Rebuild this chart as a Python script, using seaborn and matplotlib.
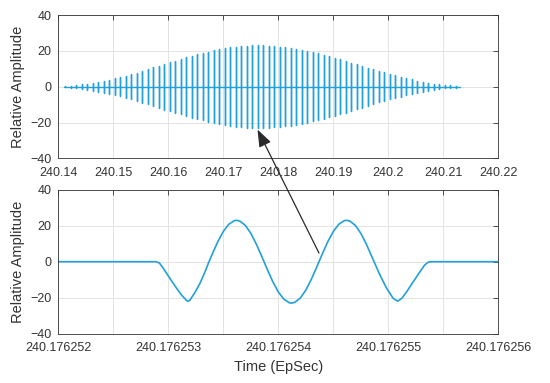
import numpy as np
import pandas as pd
import matplotlib
matplotlib.use("Agg")
import matplotlib.pyplot as plt
import seaborn as sns

# top panel: one pulse every 1 ms, peak amplitude of each pulse
pulse_first = 240.14125   # EpSec
pulse_step = 0.001        # s
pulse_amp = [
    0.4, 0.6, 0.9, 1.3, 1.7, 2.2, 2.7, 3.3, 3.9, 4.6,
    5.4, 6.2, 7.0, 7.9, 8.9, 9.8, 10.8, 11.8, 12.8, 13.6,
    14.5, 15.4, 16.3, 17.2, 18.0, 18.7, 19.6, 20.3, 20.9, 21.5,
    21.9, 22.2, 22.6, 22.8, 23.0, 23.0, 23.0, 22.8, 22.6, 22.4,
    22.0, 21.8, 21.2, 20.7, 20.0, 19.3, 18.7, 17.8, 17.0, 16.1,
    15.3, 14.4, 13.4, 12.5, 11.6, 10.7, 9.8, 8.8, 8.0, 7.1,
    6.4, 5.6, 4.8, 4.1, 3.4, 2.8, 2.2, 1.7, 1.3, 0.9,
    0.7, 0.5,
]
trace_start = 240.1410
trace_end = 240.2131

# bottom panel: zoom on a single pulse (offsets in microseconds from 240.176252)
zoom_origin = 240.176252
zoom_offset_us = [
    0.0, 0.89, 0.92, 0.955, 1.015, 1.076, 1.12, 1.167, 1.18, 1.197,
    1.243, 1.288, 1.334, 1.364, 1.40, 1.45, 1.50, 1.55, 1.60, 1.62,
    1.65, 1.70, 1.75, 1.80, 1.85, 1.90, 1.95, 2.00, 2.05, 2.10,
    2.12, 2.15, 2.20, 2.25, 2.30, 2.35, 2.40, 2.45, 2.50, 2.55,
    2.60, 2.62, 2.65, 2.70, 2.75, 2.80, 2.864, 2.924, 2.985, 3.045,
    3.085, 3.122, 3.167, 3.227, 3.288, 3.33, 3.364, 3.40, 4.0,
]
zoom_amp = [
    0.0, 0.0, -0.8, -3.7, -9.3, -14.8, -18.5, -21.6, -22.0, -21.3,
    -17.0, -12.0, -5.6, -0.9, 4.3, 11.1, 16.8, 20.8, 22.8, 23.0,
    22.6, 20.2, 15.8, 9.8, 2.9, -4.3, -11.1, -16.8, -20.8, -22.8,
    -23.0, -22.6, -20.2, -15.8, -9.8, -2.9, 4.3, 11.1, 16.8, 20.8,
    22.8, 23.0, 22.6, 20.2, 15.8, 9.8, 0.9, -7.4, -14.8, -20.4,
    -21.9, -20.4, -16.7, -11.1, -5.6, -1.9, -0.2, 0.0, 0.0,
]

top_xticks = [240.14, 240.15, 240.16, 240.17, 240.18, 240.19, 240.2, 240.21, 240.22]
bot_xticks_us = [0, 0.5, 1, 1.5, 2, 2.5, 3, 3.5, 4]
yticks = [-40, -20, 0, 20, 40]

line_color = "#22a0da"
ink = "#333333"

sns.set_style("white")
plt.rcParams["font.family"] = ["Liberation Sans", "DejaVu Sans"]

# build the top trace: baseline with a vertical swing at each pulse
tt, yy = [trace_start], [0.0]
for k, a in enumerate(pulse_amp):
    t = pulse_first + k * pulse_step
    tt += [t, t, t, t]
    yy += [0.0, -a, a, 0.0]
tt.append(trace_end)
yy.append(0.0)
top_df = pd.DataFrame({"time": tt, "amp": yy})

bot_df = pd.DataFrame({
    "time": [zoom_origin + u * 1e-6 for u in zoom_offset_us],
    "amp": zoom_amp,
})

fig = plt.figure(figsize=(5.5, 3.83), dpi=100)
ax_top = fig.add_axes([0.106, 0.5864, 0.8, 0.3744])
ax_bot = fig.add_axes([0.106, 0.1287, 0.8, 0.376])

sns.lineplot(data=top_df, x="time", y="amp", sort=False, estimator=None,
             color=line_color, lw=1.0, ax=ax_top)
sns.lineplot(data=bot_df, x="time", y="amp", sort=False, estimator=None,
             color=line_color, lw=1.2, ax=ax_bot)

ax_top.set_xlim(240.14, 240.22)
ax_top.set_xticks(top_xticks, [f"{v:.2f}".rstrip("0") for v in top_xticks])

bot_ticks = [zoom_origin + u * 1e-6 for u in bot_xticks_us]
bot_labels = [f"{t:.6f}" if float(u).is_integer() else "" for t, u in zip(bot_ticks, bot_xticks_us)]
ax_bot.set_xlim(bot_ticks[0], bot_ticks[-1])
ax_bot.set_xticks(bot_ticks, bot_labels)

for ax in (ax_top, ax_bot):
    ax.set_ylim(-40, 40)
    ax.set_yticks(yticks)
    ax.grid(True, color="#e3e3e3", lw=0.7)
    ax.set_axisbelow(True)
    ax.tick_params(direction="in", top=True, right=True, length=3.5, width=0.6,
                   colors=ink, labelsize=9, pad=5)
    ax.tick_params(axis="x", pad=6)
    for s in ax.spines.values():
        s.set_visible(True)
        s.set_color(ink)
        s.set_linewidth(0.6)
    ax.set_ylabel("Relative Amplitude", fontsize=10.5, color=ink, labelpad=4)
    ax.set_xlabel("")

ax_bot.set_xlabel("Time (EpSec)", fontsize=10.5, color=ink, labelpad=4)

# arrow from the zoomed pulse back to its place in the train
ax_bot.annotate("", xy=(240.17622, -23.9), xycoords=ax_top.transData,
                xytext=(zoom_origin + 2.37e-6, 4.8), textcoords="data",
                arrowprops=dict(arrowstyle="-|>,head_length=0.75,head_width=0.28",
                                mutation_scale=14, color="#2a2a2a", lw=0.9,
                                shrinkA=0, shrinkB=0))

fig.savefig("out.png", dpi=100)
